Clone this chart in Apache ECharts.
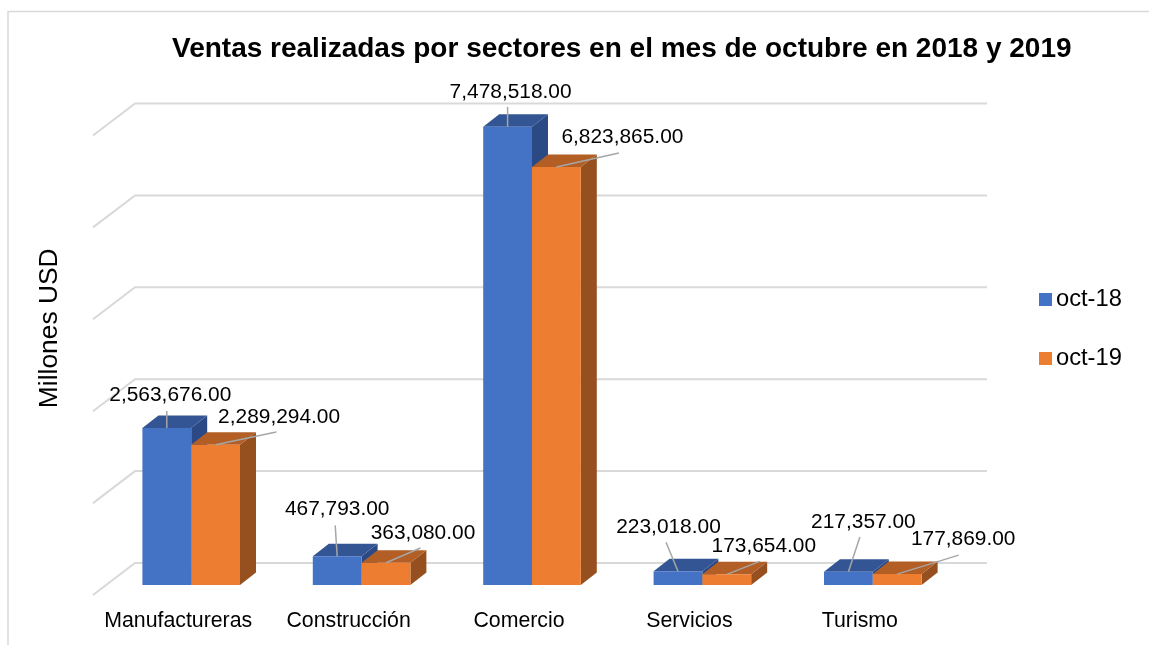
<!DOCTYPE html>
<html>
<head>
<meta charset="utf-8">
<script src="https://cdn.jsdelivr.net/npm/echarts@6/dist/echarts.min.js"></script>
<style>
    html, body { margin: 0; padding: 0; background: #fff; }
    #chart { width: 1149px; height: 645px; }
</style>
</head>
<body>
<div id="chart"></div>
<script>
const categories = ['Manufactureras', 'Construcción', 'Comercio', 'Servicios', 'Turismo'];
const oct18 = [2563676, 467793, 7478518, 223018, 217357];
const oct19 = [2289294, 363080, 6823865, 173654, 177869];
const gridTicks = [0, 1500000, 3000000, 4500000, 6000000, 7500000];

// where each value label and its leader line end sit, relative to the bar's top centre
const labelPos18 = [[3.5, -33], [0, -47], [3, -35], [-9.5, -44.6], [15, -49.6]];
const leaderEnd18 = [[0, -17], [-2, -31], [0, -20], [-12, -29], [11.5, -34.6]];
const labelPos19 = [[63.5, -28], [37, -29.7], [66, -29.3], [37, -28], [66, -34.5]];
const leaderEnd19 = [[60.7, -12.7], [34.5, -14.7], [62.5, -14], [33, -13], [61.5, -19]];

const FONT = '"Liberation Sans", Arial, sans-serif';
const GRID_COLOR = '#d9d9d9';
const LEADER_COLOR = '#a6a6a6';

// fake 3D: wall depth of the grid lines, bar offset from the front plane, bar depth
const WALL_DX = 42, WALL_DY = -32;
const BAR_DX = 13, BAR_DY = -10;
const DEPTH_DX = 16, DEPTH_DY = -12.5;
const BAR_WIDTH = 48.8;

function renderGridLine(params, api) {
    const cs = params.coordSys;
    const y = api.coord([0, api.value(0)])[1];
    return {
        type: 'polyline',
        shape: { points: [[cs.x, y], [cs.x + WALL_DX, y + WALL_DY], [cs.x + cs.width + WALL_DX, y + WALL_DY]] },
        style: { fill: 'none', stroke: GRID_COLOR, lineWidth: 2 }
    };
}

function barRenderer(side, colors, labelPos, leaderEnd) {
    return function (params, api) {
        const i = api.value(0);
        const top = api.coord([i, api.value(1)]);
        const base = api.coord([i, 0]);
        const x0 = top[0] + BAR_DX + (side === 0 ? -BAR_WIDTH : 0);
        const x1 = x0 + BAR_WIDTH;
        const yT = top[1] + BAR_DY;
        const yB = base[1] + BAR_DY;
        const cx = (x0 + x1) / 2;
        const text = api.value(1).toLocaleString('en-US', { minimumFractionDigits: 2 });
        return {
            type: 'group',
            children: [
                {
                    type: 'polygon',
                    shape: { points: [[x1, yT], [x1 + DEPTH_DX, yT + DEPTH_DY], [x1 + DEPTH_DX, yB + DEPTH_DY], [x1, yB]] },
                    style: { fill: colors.side }
                },
                {
                    type: 'polygon',
                    shape: { points: [[x0, yT], [x0 + DEPTH_DX, yT + DEPTH_DY], [x1 + DEPTH_DX, yT + DEPTH_DY], [x1, yT]] },
                    style: { fill: colors.top }
                },
                {
                    type: 'rect',
                    shape: { x: x0, y: yT, width: BAR_WIDTH, height: yB - yT },
                    style: { fill: colors.front }
                },
                {
                    type: 'line',
                    shape: { x1: cx, y1: yT, x2: cx + leaderEnd[i][0], y2: yT + leaderEnd[i][1] },
                    style: { stroke: LEADER_COLOR, lineWidth: 1.5 }
                },
                {
                    type: 'text',
                    style: {
                        x: cx + labelPos[i][0], y: yT + labelPos[i][1], text: text,
                        textAlign: 'center', textVerticalAlign: 'middle',
                        fontFamily: FONT, fontSize: 20.9, fill: '#000'
                    }
                }
            ]
        };
    };
}

const chart = echarts.init(document.getElementById('chart'));
chart.setOption({
    animation: false,
    backgroundColor: '#fff',
    title: {
        text: 'Ventas realizadas por sectores en el mes de octubre en 2018 y 2019',
        left: 167,
        top: 30,
        textStyle: { fontFamily: FONT, fontSize: 28, fontWeight: 'bold', color: '#000' }
    },
    legend: {
        data: ['oct-18', 'oct-19'],
        orient: 'vertical',
        left: 1034,
        top: 282.5,
        icon: 'rect',
        itemWidth: 13,
        itemHeight: 13,
        itemGap: 35,
        selectedMode: false,
        textStyle: { fontFamily: FONT, fontSize: 23.7, color: '#000', padding: [1, 0, 0, -1] }
    },
    grid: { left: 93, top: 135.5, width: 852, height: 459.5, outerBoundsMode: 'none' },
    xAxis: {
        type: 'category',
        data: categories,
        axisLine: { show: false },
        axisTick: { show: false },
        splitLine: { show: false },
        axisLabel: { color: '#000', fontFamily: FONT, fontSize: 21.3, margin: 15.5, interval: 0 }
    },
    yAxis: {
        type: 'value',
        min: 0,
        max: 7500000,
        interval: 1500000,
        name: 'Millones USD',
        nameLocation: 'middle',
        nameGap: 30,
        nameTextStyle: { color: '#000', fontFamily: FONT, fontSize: 26.4, padding: [0, 0, 0, 74] },
        axisLine: { show: false },
        axisTick: { show: false },
        axisLabel: { show: false },
        splitLine: { show: false }
    },
    graphic: [{
        type: 'polyline',
        silent: true,
        shape: { points: [[8, 645], [8, 11.5], [1149, 11.5]] },
        style: { fill: 'none', stroke: GRID_COLOR, lineWidth: 1.5 }
    }],
    series: [
        {
            name: 'ticks',
            type: 'custom',
            silent: true,
            clip: false,
            encode: { y: 0 },
            data: gridTicks.map(v => [v]),
            renderItem: renderGridLine
        },
        {
            name: 'oct-18',
            type: 'custom',
            clip: false,
            itemStyle: { color: '#4472C4' },
            encode: { x: 0, y: 1 },
            data: oct18.map((v, i) => [i, v]),
            renderItem: barRenderer(0, { front: '#4472C4', top: '#335593', side: '#2B4A85' }, labelPos18, leaderEnd18)
        },
        {
            name: 'oct-19',
            type: 'custom',
            clip: false,
            itemStyle: { color: '#ED7D31' },
            encode: { x: 0, y: 1 },
            data: oct19.map((v, i) => [i, v]),
            renderItem: barRenderer(1, { front: '#ED7D31', top: '#B25E25', side: '#96501F' }, labelPos19, leaderEnd19)
        }
    ]
});
window.addEventListener('resize', () => chart.resize());
</script>
</body>
</html>
